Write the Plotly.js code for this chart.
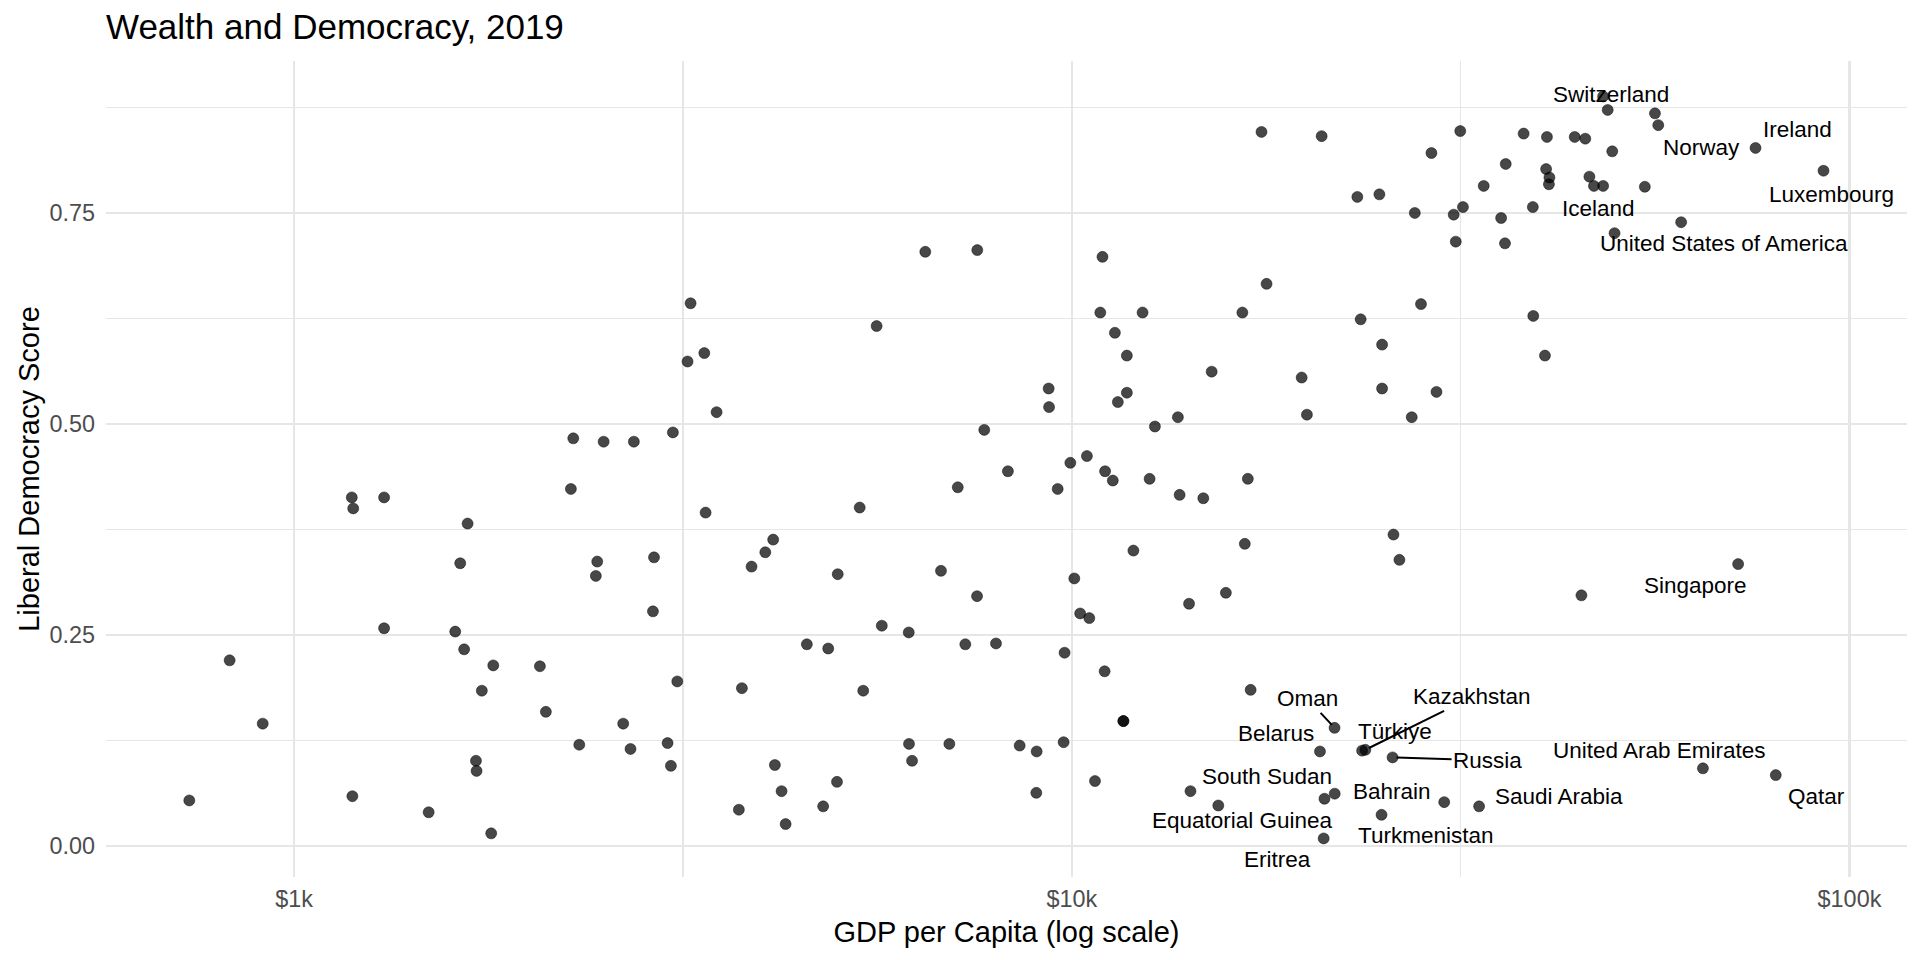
<!DOCTYPE html>
<html>
<head>
<meta charset="utf-8">
<script src="https://cdn.plot.ly/plotly-3.0.1.min.js"></script>
<style>
  html, body { margin: 0; padding: 0; background: #fff; }
  #chart { width: 1920px; height: 960px; }
</style>
</head>
<body>
<div id="chart"></div>
<script>
// GDP per capita (USD, log axis) and liberal democracy score, 2019 - unlabelled countries
const gdpPerCapita = [
  733, 826, 911, 1186, 1191, 1188, 1305, 1305, 1489, 1611,
  1635, 1654, 1671, 1713, 1716, 1743, 1792, 1803, 2070, 2107,
  2269, 2285, 2326, 2443, 2453, 2500, 2734, 2649, 2707, 2893,
  2902, 3021, 3051, 3069, 3109, 3205, 3234, 3368, 3381, 3493,
  3731, 3765, 3874, 4035, 4130, 4151, 4234, 4285, 4563, 4789,
  4861, 4989, 5000, 5336, 5392, 5610, 5697, 6170, 6175, 6231,
  6480, 6788, 6958, 7134, 7295, 7553, 7558, 7716, 7989, 8276,
  8569, 9002, 9011, 9337, 9348, 9590, 9760, 9788, 9956, 10074,
  10250, 10531, 10710, 11020, 11650, 11650, 10950, 10880, 12330, 11360,
  11770, 11770, 11460, 15130, 13690, 12790, 16570, 17800, 23520, 28120,
  39210, 40590, 25060, 19750, 25060, 29440, 20060, 27360, 10457, 11035,
  11290, 12590, 13760, 14760, 16840, 12000, 16690, 14150, 15780, 25920,
  26380, 45220, 16980, 21130, 30120, 17535, 20954, 31586, 38107, 40832,
  44330, 45740, 48880, 56220, 29004, 36140, 49540, 40730, 41130, 41070,
  46300, 48220, 54560, 33860, 23290, 24860, 27610, 30980, 31840, 35650,
  39160, 49880, 31170, 36060
];
const libDemScore = [
  0.054, 0.220, 0.145, 0.413, 0.400, 0.059, 0.413, 0.258, 0.040, 0.254,
  0.335, 0.233, 0.382, 0.101, 0.089, 0.184, 0.015, 0.214, 0.213, 0.159,
  0.423, 0.483, 0.120, 0.320, 0.337, 0.479, 0.479, 0.145, 0.115, 0.278,
  0.342, 0.122, 0.095, 0.490, 0.195, 0.574, 0.643, 0.584, 0.395, 0.514,
  0.043, 0.187, 0.331, 0.348, 0.363, 0.096, 0.065, 0.026, 0.239, 0.047,
  0.234, 0.076, 0.322, 0.401, 0.184, 0.616, 0.261, 0.253, 0.121, 0.101,
  0.704, 0.326, 0.121, 0.425, 0.239, 0.296, 0.706, 0.493, 0.240, 0.444,
  0.119, 0.063, 0.112, 0.542, 0.520, 0.423, 0.123, 0.229, 0.454, 0.317,
  0.2755, 0.270, 0.077, 0.207, 0.148, 0.148, 0.698, 0.632, 0.632, 0.608,
  0.581, 0.537, 0.526, 0.562, 0.508, 0.497, 0.632, 0.666, 0.624, 0.642,
  0.628, 0.581, 0.594, 0.555, 0.542, 0.538, 0.511, 0.508, 0.462, 0.444,
  0.433, 0.435, 0.416, 0.412, 0.435, 0.350, 0.358, 0.287, 0.300, 0.369,
  0.339, 0.297, 0.185, 0.056, 0.052, 0.846, 0.841, 0.847, 0.844, 0.840,
  0.840, 0.838, 0.872, 0.868, 0.821, 0.808, 0.823, 0.802, 0.792, 0.784,
  0.793, 0.782, 0.781, 0.782, 0.769, 0.772, 0.750, 0.748, 0.757, 0.744,
  0.757, 0.726, 0.716, 0.714
];

// labelled countries
const labelCountries = [
  'Switzerland', 'Norway', 'Ireland', 'Luxembourg', 'Iceland', 'United States of America',
  'Singapore', 'Oman', 'Kazakhstan', 'Türkiye', 'Belarus', 'Russia',
  'United Arab Emirates', 'Qatar', 'South Sudan', 'Bahrain', 'Saudi Arabia',
  'Equatorial Guinea', 'Turkmenistan', 'Eritrea'
];
const labelGdp = [
  48220, 56770, 75720, 92600, 46930, 60750,
  71920, 21770, 23850, 23620, 20850, 25850,
  64800, 80400, 14210, 21780, 33400,
  15430, 25020, 21080
];
const labelScore = [
  0.888, 0.854, 0.827, 0.800, 0.782, 0.739,
  0.334, 0.140, 0.114, 0.113, 0.112, 0.105,
  0.092, 0.084, 0.065, 0.062, 0.047,
  0.048, 0.037, 0.009
];

const xTickVals = [1000, 10000, 100000];
const xTickText = ['$1k', '$10k', '$100k'];
const xMinorVals = [3162.28, 31622.8];
const yTickVals = [0, 0.25, 0.5, 0.75];
const yTickText = ['0.00', '0.25', '0.50', '0.75'];
const yMinorVals = [0.125, 0.375, 0.625, 0.875];

// label placement (pixel offset of text from its point, like ggrepel output)
const labelNudge = {
  'Switzerland': [8, -2, false],
  'Norway': [43, 22, false],
  'Ireland': [42, -18, false],
  'Luxembourg': [8, 24, false],
  'Iceland': [5, 23, false],
  'United States of America': [43, 21, false],
  'Singapore': [-43, 21, false],
  'Oman': [-27, -29, true],
  'Kazakhstan': [107, -53, true],
  'Türkiye': [33, -19, false],
  'Belarus': [-44, -18, false],
  'Russia': [95, 3, true],
  'United Arab Emirates': [-43, -18, false],
  'Qatar': [41, 21, false],
  'South Sudan': [77, -15, false],
  'Bahrain': [57, -2, false],
  'Saudi Arabia': [80, -10, false],
  'Equatorial Guinea': [24, 15, false],
  'Turkmenistan': [44, 21, false],
  'Eritrea': [-46, 21, false]
};

const FONT = '"Liberation Sans", Arial, Helvetica, sans-serif';
const GRID = '#e6e6e6';

const points = {
  x: gdpPerCapita.concat(labelGdp),
  y: libDemScore.concat(labelScore),
  type: 'scatter',
  mode: 'markers',
  marker: {
    size: 11,
    color: 'rgba(0,0,0,0.72)',
    line: { color: 'rgba(0,0,0,0.45)', width: 1 }
  },
  hoverinfo: 'x+y'
};

const annotations = labelCountries.map((name, i) => {
  const n = labelNudge[name];
  return {
    x: Math.log10(labelGdp[i]),
    y: labelScore[i],
    xref: 'x', yref: 'y',
    text: name,
    showarrow: true,
    arrowhead: 0,
    arrowwidth: 2,
    arrowcolor: n[2] ? '#000' : 'rgba(0,0,0,0)',
    standoff: 4,
    ax: n[0], ay: n[1],
    font: { family: FONT, size: 22.5, color: '#000' }
  };
});

const layout = {
  width: 1920,
  height: 960,
  paper_bgcolor: '#fff',
  plot_bgcolor: '#fff',
  margin: { l: 106, r: 13, t: 61, b: 83 },
  showlegend: false,
  font: { family: FONT },
  title: {
    text: 'Wealth and Democracy, 2019',
    font: { family: FONT, size: 35, color: '#000' },
    x: 106 / 1920, xref: 'container', xanchor: 'left',
    y: 1 - 27 / 960, yref: 'container', yanchor: 'middle'
  },
  xaxis: {
    type: 'log',
    range: [2.758, 5.074],
    tickmode: 'array',
    tickvals: xTickVals,
    ticktext: xTickText,
    tickfont: { family: FONT, size: 23.4, color: '#4d4d4d' },
    ticks: '',
    ticklabelstandoff: 6,
    showline: false,
    zeroline: false,
    showgrid: true,
    gridcolor: GRID,
    gridwidth: 2.6,
    minor: { tickmode: 'array', tickvals: xMinorVals, showgrid: true, gridcolor: GRID, gridwidth: 1.3, ticks: '' },
    automargin: false,
    title: { text: 'GDP per Capita (log scale)', font: { family: FONT, size: 29, color: '#000' }, standoff: 10 }
  },
  yaxis: {
    range: [-0.0367, 0.930],
    tickmode: 'array',
    tickvals: yTickVals,
    ticktext: yTickText,
    tickfont: { family: FONT, size: 23.4, color: '#4d4d4d' },
    ticks: '',
    ticklabelstandoff: 10,
    showline: false,
    zeroline: false,
    showgrid: true,
    gridcolor: GRID,
    gridwidth: 2.6,
    minor: { tickmode: 'array', tickvals: yMinorVals, showgrid: true, gridcolor: GRID, gridwidth: 1.3, ticks: '' },
    automargin: false,
    title: { text: 'Liberal Democracy Score', font: { family: FONT, size: 29, color: '#000' }, standoff: 1 }
  },
  annotations: annotations
};

Plotly.newPlot('chart', [points], layout, { displayModeBar: false, staticPlot: true });
</script>
</body>
</html>
